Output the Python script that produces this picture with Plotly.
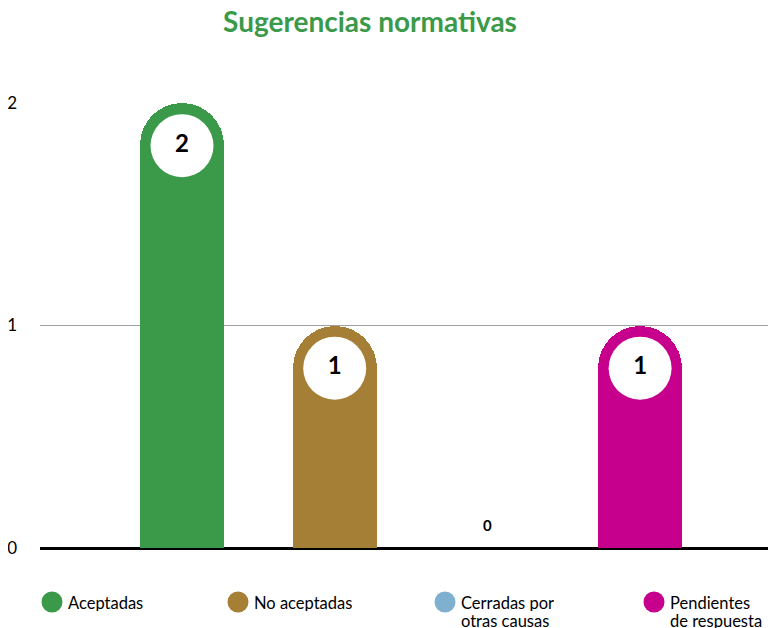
import plotly.graph_objects as go

categories = ["Aceptadas", "No aceptadas", "Cerradas por<br>otras causas", "Pendientes<br>de respuesta"]
values = [2, 1, 0, 1]
colors = ["#3a9a4a", "#a67f36", "#7fb0d0", "#c6008c"]
y_ticks = [0, 1, 2]

FONT = "Lato, 'Open Sans', sans-serif"
x = list(range(len(categories)))

# the page body adds an 8px offset, so the figure is sized to the visible area
OFF = 8
W, H = 776 - OFF, 628 - OFF
L, R, T, B = 40 - OFF, 0, 103 - OFF, 628 - 548
pw, ph = W - L - R, H - T - B

fig = go.Figure()
for i, (c, v, col) in enumerate(zip(categories, values, colors)):
    fig.add_trace(go.Bar(
        x=[i], y=[v], width=0.55, marker=dict(color=col, cornerradius="50%", line=dict(width=0)),
        showlegend=False, hoverinfo="skip"))

# white circles with value labels
circle_offset = 0.192
lab_y = [v - circle_offset if v > 0 else 0.093 for v in values]
fig.add_trace(go.Scatter(
    x=x, y=lab_y, mode="markers+text",
    marker=dict(size=[63 if v > 0 else 0 for v in values], color="white", opacity=1, line=dict(width=0)),
    text=[str(v) for v in values], textposition="middle center",
    textfont=dict(family=FONT, size=[24 if v > 0 else 15 for v in values], color="black", weight="bold"),
    showlegend=False, cliponaxis=False, hoverinfo="skip"))

# manual legend (circles + labels) below the plot, positions in window pixels
leg_px = [52, 238, 445, 654]
leg_py = 602
line_gap = 18
shapes, annos = [], []
for c, col, cxw in zip(categories, colors, leg_px):
    cx = cxw - OFF
    cy = leg_py - OFF
    px = (cx - L) / pw
    py = (H - B - cy) / ph
    shapes.append(dict(type="circle", xref="paper", yref="paper", xsizemode="pixel", ysizemode="pixel",
                       xanchor=px, yanchor=py, x0=-10.5, x1=10.5, y0=-10.5, y1=10.5,
                       fillcolor=col, line=dict(width=0)))
    for k, line in enumerate(c.split("<br>")):
        ly = cy + k * line_gap
        annos.append(dict(text=line, xref="paper", yref="paper", x=(cx + 15 - L) / pw,
                          y=(H - B - ly) / ph, xanchor="left", yanchor="middle",
                          height=17, showarrow=False, align="left", borderpad=0,
                          font=dict(family=FONT, size=16.5, color="black")))

fig.update_layout(
    width=W, height=H,
    margin=dict(l=L, r=R, t=T, b=B),
    paper_bgcolor="white", plot_bgcolor="white",
    title=dict(text="<b>Sugerencias normativas</b>", x=(370 - OFF) / W, xanchor="center",
               y=1 - (22 - OFF) / H, yanchor="middle",
               font=dict(family=FONT, size=28, color="#3a9a4a")),
    xaxis=dict(range=[-0.93, 3.89], showticklabels=False, showgrid=False, zeroline=False, fixedrange=True),
    yaxis=dict(range=[0, 2], tickvals=y_ticks, ticktext=[str(t) for t in y_ticks],
               showgrid=True, gridcolor="#a0a0a0", gridwidth=1.4,
               zeroline=True, zerolinecolor="black", zerolinewidth=3,
               tickfont=dict(family=FONT, size=17, color="black"), ticklabelstandoff=22,
               showline=False, automargin=False),
    shapes=shapes, annotations=annos,
    bargap=0, showlegend=False,
)

fig.write_html("out.html")
